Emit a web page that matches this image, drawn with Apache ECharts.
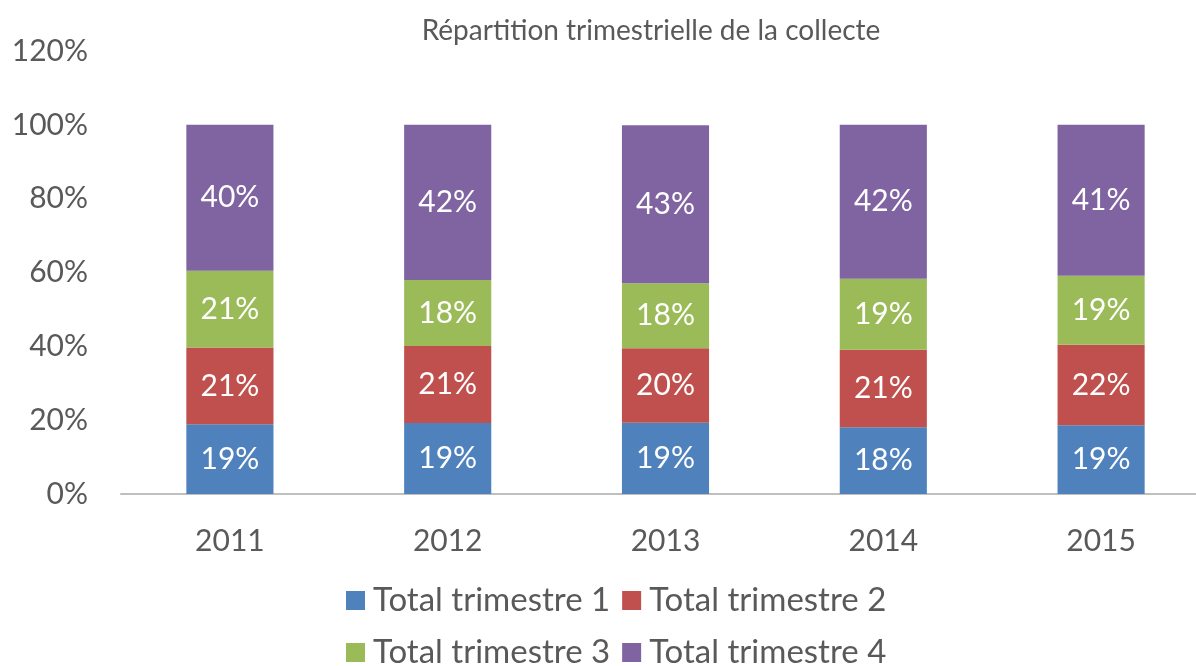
<!DOCTYPE html>
<html>
<head>
<meta charset="utf-8">
<title>Répartition trimestrielle de la collecte</title>
<script src="https://cdn.jsdelivr.net/npm/echarts@6/dist/echarts.min.js"></script>
<style>
  html, body { margin: 0; padding: 0; background: #fff; }
  #chart { width: 1196px; height: 666px; }
</style>
</head>
<body>
<div id="chart"></div>
<script>
// années (catégories)
const years = ['2011', '2012', '2013', '2014', '2015']
// part de chaque trimestre dans la collecte annuelle, en %
const trimestre1 = [18.9, 19.2, 19.3, 18.1, 18.6]
const trimestre2 = [20.8, 20.9, 20.2, 21.0, 21.8]
const trimestre3 = [20.8, 17.9, 17.6, 19.2, 18.7]
const trimestre4 = [39.5, 42.0, 42.8, 41.7, 40.9]
const seriesNames = ['Total trimestre 1', 'Total trimestre 2', 'Total trimestre 3', 'Total trimestre 4']
const colorArr = ['#4f81bd', '#c0504d', '#9bbb59', '#8064a2']

const font = 'Lato, "Open Sans", sans-serif'
const grey = '#595959'

const chartInstance = echarts.init(document.getElementById('chart'))

const makeSeries = (name, data, color) => ({
  name: name,
  type: 'bar',
  stack: 'total', // empilement à 100%
  barWidth: '40%',
  data: data,
  itemStyle: { color: color },
  label: {
    show: true,
    position: 'inside',
    color: '#fff',
    fontFamily: font,
    fontSize: 30,
    formatter: arg => Math.round(arg.value) + '%'
  }
})

const legendCommon = {
  left: 341,
  itemWidth: 19,
  itemHeight: 19,
  itemGap: 12,
  icon: 'rect',
  textStyle: { color: grey, fontFamily: font, fontSize: 33, padding: [0, 0, 0, 3] }
}

const option = {
  animation: false,
  title: {
    text: 'Répartition trimestrielle de la collecte',
    left: 646,
    top: 12,
    textAlign: 'center',
    textStyle: { color: grey, fontFamily: font, fontSize: 28, fontWeight: 'normal' }
  },
  legend: [
    Object.assign({}, legendCommon, { top: 579, data: seriesNames.slice(0, 2) }),
    Object.assign({}, legendCommon, { top: 631, data: seriesNames.slice(2, 4) })
  ],
  grid: {
    left: 121,
    width: 1089, // l'axe déborde à droite comme sur l'original
    top: 51,
    bottom: 172,
    containLabel: false,
    outerBoundsMode: 'none'
  },
  xAxis: {
    type: 'category',
    data: years,
    axisLine: { lineStyle: { color: '#bfbfbf', width: 2 } },
    axisTick: { show: false },
    axisLabel: { color: grey, fontFamily: font, fontSize: 30, margin: 32 }
  },
  yAxis: {
    type: 'value',
    min: 0,
    max: 120,
    interval: 20,
    splitLine: { show: false },
    axisLine: { show: false },
    axisTick: { show: false },
    axisLabel: { color: grey, fontFamily: font, fontSize: 30, margin: 33, formatter: '{value}%' }
  },
  series: [
    makeSeries(seriesNames[0], trimestre1, colorArr[0]),
    makeSeries(seriesNames[1], trimestre2, colorArr[1]),
    makeSeries(seriesNames[2], trimestre3, colorArr[2]),
    makeSeries(seriesNames[3], trimestre4, colorArr[3])
  ]
}
chartInstance.setOption(option)
</script>
</body>
</html>
